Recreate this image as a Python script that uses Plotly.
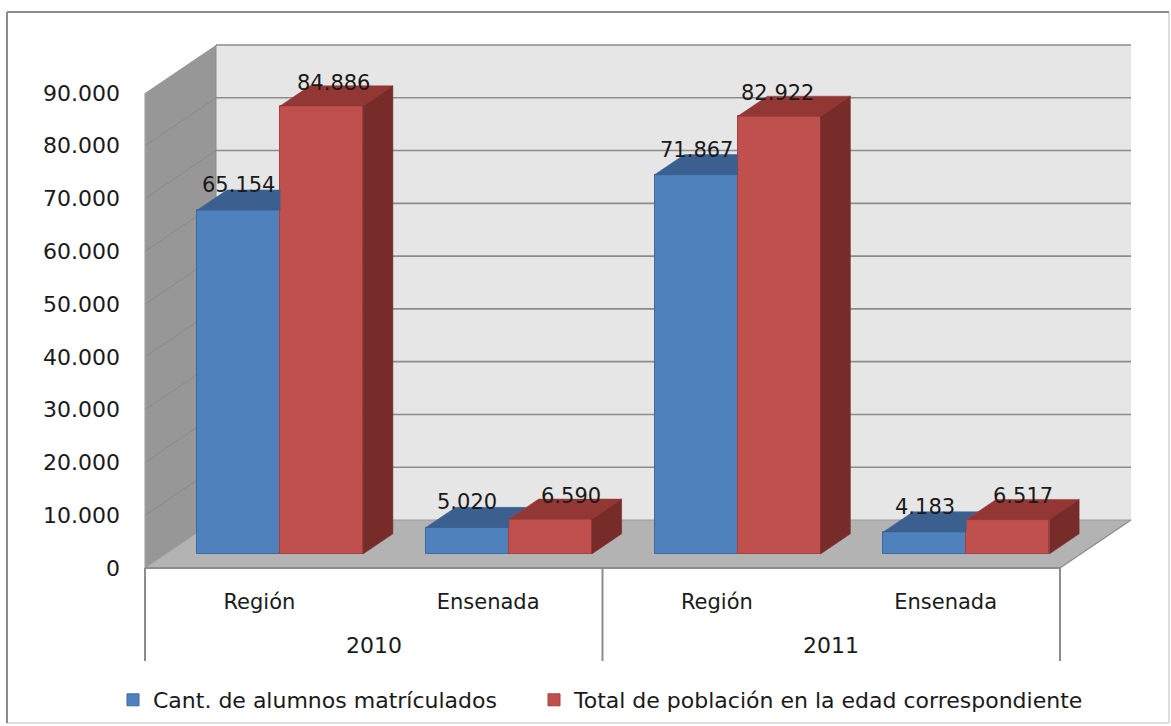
import plotly.graph_objects as go

# ---------------- data ----------------
years = ["2010", "2011"]
places = ["Región", "Ensenada"]
alumnos = [65154, 5020, 71867, 4183]
poblacion = [84886, 6590, 82922, 6517]
y_ticks = [0, 10000, 20000, 30000, 40000, 50000, 60000, 70000, 80000, 90000]
series_names = ["Cant. de alumnos matrículados",
                "Total de población en la edad correspondiente"]
categories = [p for _ in years for p in places]

# ---------------- geometry / style ----------------
W, H = 1171, 726
PLOT_LEFT_PX = 121
ORIGIN_X_PX = 145
ORIGIN_Y_PX = 568
TOP_Y_PX = 93
CAT_PX = 228.75
VMAX = y_ticks[-1]
VPP = VMAX / (ORIGIN_Y_PX - TOP_Y_PX)   # value units per pixel
XPP = 1.0 / CAT_PX                      # category units per pixel
DX = 71 * XPP                           # floor depth (x)
DV = 48 * VPP                           # floor depth (value)
BAR_FRONT = 14 / 48
BAR_DEPTH = 0.42
BAR_W = 83 * XPP
n = len(categories)

BLUE, BLUE_TOP, BLUE_EDGE = "#4f81bd", "#3b6090", "#3a6aa3"
RED, RED_TOP, RED_SIDE, RED_EDGE = "#c0504d", "#933734", "#772c2a", "#a8403d"
FONT = "DejaVu Sans"
TXT = "#1a1a1a"

fx, fv = DX * BAR_FRONT, DV * BAR_FRONT
bdx, bdv = DX * BAR_DEPTH, DV * BAR_DEPTH
centers = [i + 0.5 + fx for i in range(n)]
blue_x = [c - BAR_W / 2 for c in centers]
red_x = [c + BAR_W / 2 for c in centers]

fig = go.Figure()

# front faces
fig.add_trace(go.Bar(x=blue_x, y=alumnos, base=[fv] * n, width=BAR_W,
                     name=series_names[0], legend="legend",
                     marker=dict(color=BLUE, line=dict(color=BLUE_EDGE, width=1))))
fig.add_trace(go.Bar(x=red_x, y=poblacion, base=[fv] * n, width=BAR_W,
                     name=series_names[1], legend="legend2",
                     marker=dict(color=RED, line=dict(color=RED_EDGE, width=1))))

# blue tops (visible part)
bx, by = [], []
for i in range(n):
    x0, x1 = blue_x[i] - BAR_W / 2, blue_x[i] + BAR_W / 2
    bt = fv + alumnos[i]
    rt = fv + poblacion[i]
    cap = min(rt, bt + bdv)
    x_end = x1 + bdx * max(0.0, (bt + bdv - rt) / bdv)
    bx += [x0, x1, x1, x_end, x0 + bdx, x0, None]
    by += [bt, bt, cap, bt + bdv, bt + bdv, bt, None]
fig.add_trace(go.Scatter(x=bx, y=by, mode="lines", fill="toself",
                         fillcolor=BLUE_TOP, line=dict(color=BLUE_TOP, width=0.5),
                         showlegend=False, hoverinfo="skip"))

# red tops and sides
tx, ty, sx, sy = [], [], [], []
for i in range(n):
    x0, x1 = red_x[i] - BAR_W / 2, red_x[i] + BAR_W / 2
    rt = fv + poblacion[i]
    tx += [x0, x1, x1 + bdx, x0 + bdx, x0, None]
    ty += [rt, rt, rt + bdv, rt + bdv, rt, None]
    sx += [x1, x1, x1 + bdx, x1 + bdx, x1, None]
    sy += [fv, rt, rt + bdv, fv + bdv, fv, None]
fig.add_trace(go.Scatter(x=tx, y=ty, mode="lines", fill="toself",
                         fillcolor=RED_TOP, line=dict(color=RED_TOP, width=0.5),
                         showlegend=False, hoverinfo="skip"))
fig.add_trace(go.Scatter(x=sx, y=sy, mode="lines", fill="toself",
                         fillcolor=RED_SIDE, line=dict(color=RED_SIDE, width=0.5),
                         showlegend=False, hoverinfo="skip"))

# ---------------- walls, floor, gridlines ----------------
shapes = []
shapes.append(dict(type="rect", xref="x", yref="y", x0=DX, x1=n + DX, y0=DV, y1=VMAX + DV,
                   fillcolor="#e6e6e6", line=dict(width=0), layer="below"))
shapes.append(dict(type="path", xref="x", yref="y",
                   path=f"M0,0 L{DX},{DV} L{DX},{VMAX + DV} L0,{VMAX} Z",
                   fillcolor="#979797", line=dict(width=0), layer="below"))
shapes.append(dict(type="path", xref="x", yref="y",
                   path=f"M0,0 L{n},0 L{n + DX},{DV} L{DX},{DV} Z",
                   fillcolor="#b3b3b3", line=dict(width=0), layer="below"))
for t in y_ticks[1:]:
    shapes.append(dict(type="line", xref="x", yref="y", x0=DX, x1=n + DX, y0=t + DV, y1=t + DV,
                       line=dict(color="#8c8c8c", width=1.6), layer="below"))
for t in y_ticks[1:-1]:
    shapes.append(dict(type="line", xref="x", yref="y", x0=0, x1=DX, y0=t, y1=t + DV,
                       line=dict(color="#8a8a8a", width=1), layer="below"))
shapes.append(dict(type="line", xref="x", yref="y", x0=DX, x1=DX, y0=DV, y1=VMAX + DV,
                   line=dict(color="#8a8a8a", width=1), layer="below"))
shapes.append(dict(type="line", xref="x", yref="y", x0=DX, x1=n + DX, y0=DV, y1=DV,
                   line=dict(color="#9c9c9c", width=1), layer="below"))
shapes.append(dict(type="line", xref="x", yref="y", x0=0, x1=DX, y0=0, y1=DV,
                   line=dict(color="#9c9c9c", width=1), layer="below"))
shapes.append(dict(type="line", xref="x", yref="y", x0=n, x1=n + DX, y0=0, y1=DV,
                   line=dict(color="#8c8c8c", width=1.2), layer="below"))
shapes.append(dict(type="line", xref="x", yref="y", x0=0, x1=0, y0=0, y1=VMAX,
                   line=dict(color="#a6a6a6", width=1.2), layer="below"))
shapes.append(dict(type="line", xref="x", yref="y", x0=0, x1=n, y0=0, y1=0,
                   line=dict(color="#8c8c8c", width=2), layer="below"))
# category group dividers
div_bottom = -(661 - ORIGIN_Y_PX) * VPP
for k in range(0, n + 1, len(places)):
    shapes.append(dict(type="line", xref="x", yref="y", x0=k, x1=k, y0=0, y1=div_bottom,
                       line=dict(color="#8c8c8c", width=2), layer="below"))
# outer border: darker top/left, faint right/bottom
bl, br, bt_, bb = 7 / W, 1169 / W, 1 - 12 / H, 1 - 723 / H
shapes.append(dict(type="line", xref="paper", yref="paper", x0=br, x1=br, y0=bb, y1=bt_,
                   line=dict(color="#dcdcdc", width=2), layer="below"))
shapes.append(dict(type="line", xref="paper", yref="paper", x0=bl, x1=br, y0=bb, y1=bb,
                   line=dict(color="#dcdcdc", width=2), layer="below"))
shapes.append(dict(type="line", xref="paper", yref="paper", x0=bl, x1=br, y0=bt_, y1=bt_,
                   line=dict(color="#8c8c8c", width=2), layer="below"))
shapes.append(dict(type="line", xref="paper", yref="paper", x0=bl, x1=bl, y0=bb, y1=bt_,
                   line=dict(color="#8c8c8c", width=2), layer="below"))

# ---------------- annotations ----------------
def fmt(v):
    return f"{v:,}".replace(",", ".")

annotations = []
red_shift = [12, 21, -2, 15]
for i in range(n):
    annotations.append(dict(x=blue_x[i], y=fv + alumnos[i] + bdv, xref="x", yref="y",
                            text=fmt(alumnos[i]), showarrow=False, yanchor="bottom",
                            yshift=-9, font=dict(family=FONT, size=21, color=TXT)))
    annotations.append(dict(x=red_x[i], y=fv + poblacion[i] + bdv, xref="x", yref="y",
                            text=fmt(poblacion[i]), showarrow=False, yanchor="bottom",
                            xshift=red_shift[i], yshift=-11,
                            font=dict(family=FONT, size=21, color=TXT)))
for j, yr in enumerate(years):
    annotations.append(dict(x=j * len(places) + len(places) / 2, y=0, xref="x", yref="y",
                            text=yr, showarrow=False, yanchor="middle",
                            yshift=-(645 - ORIGIN_Y_PX),
                            font=dict(family=FONT, size=22, color=TXT)))

legend_style = dict(orientation="h", xanchor="left", y=1 - 700 / H, yanchor="middle",
                    font=dict(family=FONT, size=22, color=TXT), bgcolor="rgba(0,0,0,0)")

fig.update_layout(
    width=W, height=H, margin=dict(l=0, r=0, t=0, b=0),
    paper_bgcolor="white", plot_bgcolor="rgba(0,0,0,0)",
    barmode="overlay", bargap=0, separators=",.",
    shapes=shapes, annotations=annotations,
    showlegend=True,
    legend=dict(x=113 / W, **legend_style),
    legend2=dict(x=534 / W, **legend_style),
    xaxis=dict(domain=[PLOT_LEFT_PX / W, 1],
               range=[(PLOT_LEFT_PX - ORIGIN_X_PX) * XPP, (W - ORIGIN_X_PX) * XPP],
               anchor="free", position=(H - ORIGIN_Y_PX) / H,
               tickmode="array", tickvals=[i + 0.5 for i in range(n)], ticktext=categories,
               ticks="", showgrid=False, zeroline=False, showline=False,
               ticklabelstandoff=19,
               tickfont=dict(family=FONT, size=21, color=TXT), fixedrange=True),
    yaxis=dict(domain=[0, 1],
               range=[-(H - ORIGIN_Y_PX) * VPP, ORIGIN_Y_PX * VPP],
               tickmode="array", tickvals=y_ticks, tickformat=",d",
               ticks="", showgrid=False, zeroline=False, showline=False,
               tickfont=dict(family=FONT, size=22, color=TXT), fixedrange=True),
)

fig.write_html("out.html", config={"displayModeBar": False},
               post_script="document.body.style.margin='0';")
